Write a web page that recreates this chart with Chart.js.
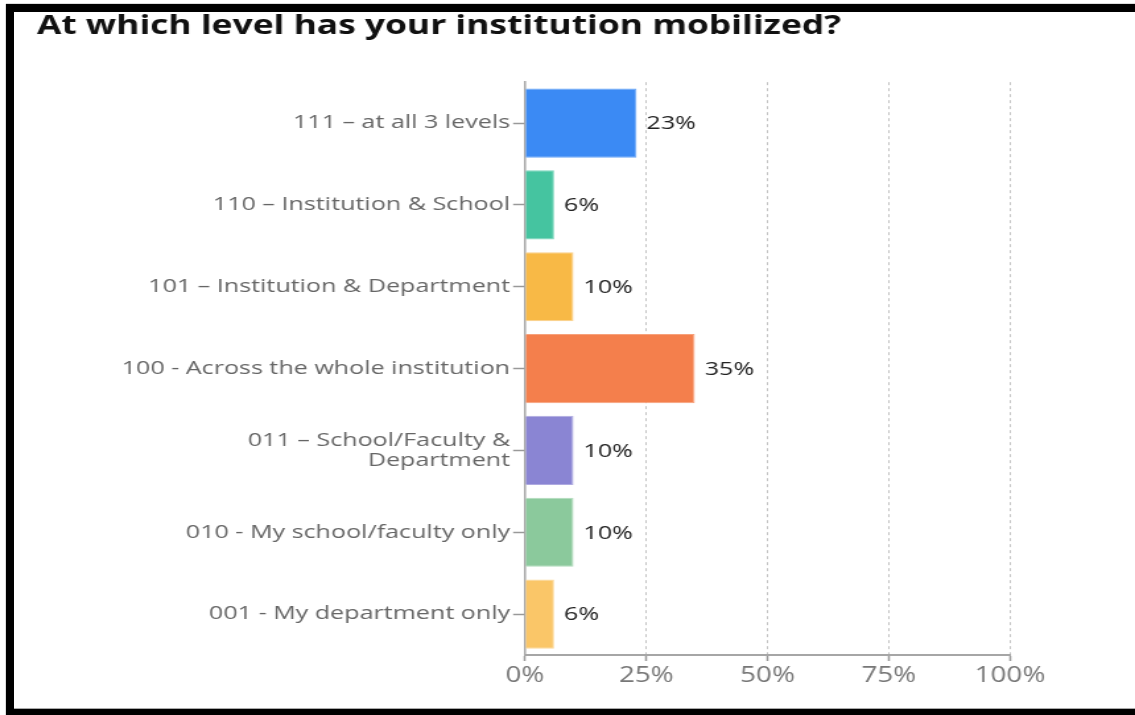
<!DOCTYPE html>
<html>
<head>
<meta charset="utf-8">
<script src="https://cdn.jsdelivr.net/npm/chart.js@4/dist/chart.umd.min.js"></script>
<style>
  html, body { margin: 0; padding: 0; background: #fff; }
  #wrap { position: relative; width: 1135px; height: 715px; overflow: hidden; }
  /* the chart is drawn narrow and widened to the page, which gives the wide lettering */
  #levels { position: absolute; left: 0; top: 0; transform-origin: 0 0; transform: scaleX(1.3198); }
  #frame {
    position: absolute; left: 6px; top: 4px; right: -10px; bottom: 0;
    border-top: 8px solid #000; border-left: 8px solid #000; border-bottom: 6px solid #000;
    box-shadow: 0 -1px 0 #ddd, -1px 0 0 #ddd;
    pointer-events: none;
  }
  #frame:after {
    content: ''; position: absolute; left: 0; right: 0; bottom: 0; height: 1px; background: #aaa;
  }
</style>
</head>
<body>
<div id="wrap">
  <canvas id="levels" width="860" height="715"></canvas>
  <div id="frame"></div>
</div>
<script>
var levels = [
  '111 \u2013 at all 3 levels',
  '110 \u2013 Institution & School',
  '101 \u2013 Institution & Department',
  '100 - Across the whole institution',
  ['011 \u2013 School/Faculty &', 'Department'],
  '010 - My school/faculty only',
  '001 - My department only'
];
var shares = [23, 6, 10, 35, 10, 10, 6];
var barColors = ['#3b8af4', '#45c4a0', '#f8b946', '#f47f4c', '#8a85d3', '#8bc99c', '#fac668'];
var edgeColors = ['#6aa6f7', '#7bd5bc', '#fad08a', '#f7a17b', '#aeaae0', '#b0dbbc', '#fcd99a'];
var pctTicks = [0, 25, 50, 75, 100];

var FONT = '"Open Sans", sans-serif';

// percent text to the right of each bar
var valueLabels = {
  id: 'valueLabels',
  afterDatasetsDraw: function(chart) {
    var ctx = chart.ctx;
    var meta = chart.getDatasetMeta(0);
    ctx.save();
    ctx.font = '19px ' + FONT;
    ctx.fillStyle = '#222';
    ctx.textAlign = 'left';
    ctx.textBaseline = 'middle';
    meta.data.forEach(function(bar, i) {
      ctx.fillText(shares[i] + '%', bar.x + 7.5, bar.y + 1);
    });
    ctx.restore();
  }
};

new Chart(document.getElementById('levels').getContext('2d'), {
  type: 'bar',
  data: {
    labels: levels,
    datasets: [{
      data: shares,
      backgroundColor: barColors,
      borderColor: edgeColors,
      borderWidth: 1,
      categoryPercentage: 1,
      barPercentage: 0.845
    }]
  },
  options: {
    indexAxis: 'y',
    responsive: false,
    animation: false,
    layout: { padding: { left: 28, right: 94.7, top: 0, bottom: 0 } },
    plugins: {
      legend: { display: false },
      tooltip: { enabled: false },
      title: {
        display: true,
        text: 'At which level has your institution mobilized?',
        align: 'start',
        color: '#111',
        font: { family: FONT, size: 26.8, weight: 'bold' },
        padding: { top: 10, bottom: 40 }
      }
    },
    scales: {
      x: {
        min: 0,
        max: 100,
        afterBuildTicks: function(scale) {
          scale.ticks = pctTicks.map(function(v) { return { value: v }; });
        },
        afterFit: function(scale) { scale.height = 60; },
        grid: {
          color: '#c4c4c4',
          tickColor: '#999',
          tickLength: 6,
          tickWidth: 1.5,
          tickBorderDash: []
        },
        border: { display: true, color: '#a6a6a6', width: 2, dash: [3, 3] },
        ticks: {
          color: '#777',
          padding: 2,
          font: { family: FONT, size: 21 },
          callback: function(v) { return v + '%'; }
        }
      },
      y: {
        afterFit: function(scale) { scale.width = 369.8; },
        grid: {
          offset: false,
          drawOnChartArea: false,
          color: '#999',
          tickLength: 9,
          tickWidth: 1.5
        },
        border: { display: true, color: '#a6a6a6', width: 1.5 },
        ticks: {
          color: '#666',
          padding: 2.3,
          font: { family: FONT, size: 19, lineHeight: 1.08 }
        }
      }
    }
  },
  plugins: [valueLabels]
});
</script>
</body>
</html>
